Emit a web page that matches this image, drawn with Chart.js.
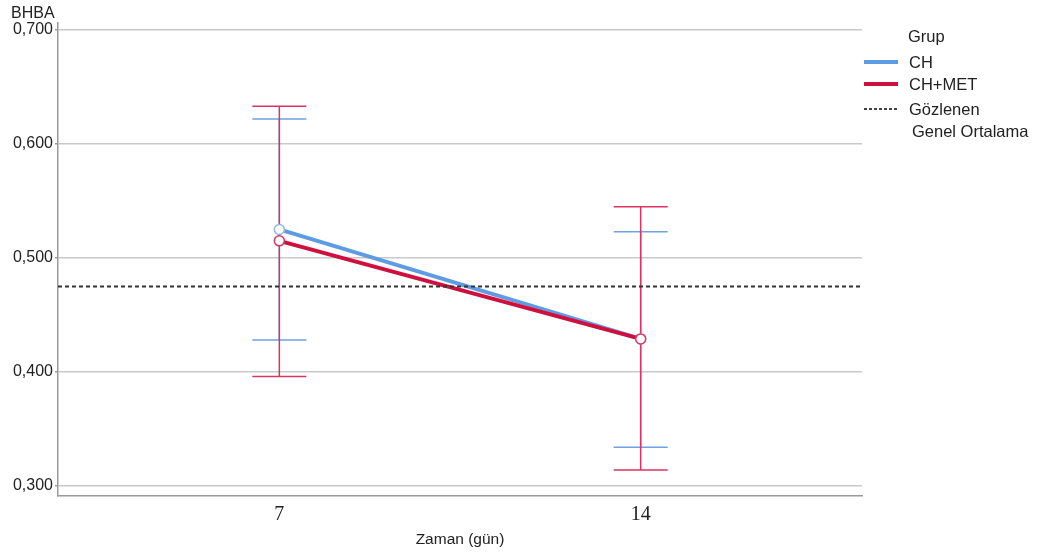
<!DOCTYPE html>
<html>
<head>
<meta charset="utf-8">
<script src="https://cdn.jsdelivr.net/npm/chart.js@4"></script>
<style>
  html, body { margin: 0; padding: 0; background: #fff; }
  #wrap { width: 1039px; height: 557px; position: relative; }
</style>
</head>
<body>
<div id="wrap"><canvas id="c" width="1039" height="557"></canvas></div>
<script>
// values
const days = ['7', '14'];
const groups = ['CH', 'CH+MET'];
const chMean = [0.525, 0.429];
const chLow = [0.428, 0.334];
const chHigh = [0.622, 0.523];
const metMean = [0.515, 0.429];
const metLow = [0.396, 0.314];
const metHigh = [0.633, 0.545];
const grandMean = 0.475;
const yTicks = [0.3, 0.4, 0.5, 0.6, 0.7];

const BLUE = '#5e9be3', RED = '#cf0f3e';
const BLUE_BAR = '#6ea2e0', RED_BAR = '#dc3460';
const X_MIN = -0.6125, X_MAX = 1.6125;
const SANS = '"Liberation Sans", Arial, sans-serif';

const bars = [
  { low: chLow, high: chHigh, color: BLUE_BAR },
  { low: metLow, high: metHigh, color: RED_BAR },
];

// error bars, drawn under the lines
const errorBars = {
  id: 'errorBars',
  beforeDatasetsDraw(chart) {
    const { ctx, scales: { x, y } } = chart;
    ctx.save();
    ctx.lineWidth = 1.5;
    bars.forEach(b => {
      ctx.strokeStyle = b.color;
      days.forEach((d, i) => {
        const px = x.getPixelForValue(i);
        const top = y.getPixelForValue(b.high[i]);
        const bot = y.getPixelForValue(b.low[i]);
        ctx.beginPath();
        ctx.moveTo(px, top); ctx.lineTo(px, bot);
        ctx.moveTo(px - 27, top); ctx.lineTo(px + 27, top);
        ctx.moveTo(px - 27, bot); ctx.lineTo(px + 27, bot);
        ctx.stroke();
      });
    });
    ctx.restore();
  }
};

// legend + y title, SPSS style
const sideLegend = {
  id: 'sideLegend',
  afterDraw(chart) {
    const ctx = chart.ctx;
    ctx.save();
    ctx.fillStyle = '#222';
    ctx.textBaseline = 'middle';
    ctx.textAlign = 'left';
    ctx.font = '16px ' + SANS;
    ctx.fillText('BHBA', 11, 14);
    ctx.font = '16.5px ' + SANS;
    ctx.fillText('Grup', 908, 37);
    ctx.lineWidth = 4;
    ctx.strokeStyle = BLUE;
    ctx.beginPath(); ctx.moveTo(864, 62); ctx.lineTo(898, 62); ctx.stroke();
    ctx.strokeStyle = RED;
    ctx.beginPath(); ctx.moveTo(864, 84); ctx.lineTo(898, 84); ctx.stroke();
    ctx.lineWidth = 2;
    ctx.strokeStyle = '#444';
    ctx.setLineDash([3, 2]);
    ctx.beginPath(); ctx.moveTo(864, 109); ctx.lineTo(898, 109); ctx.stroke();
    ctx.setLineDash([]);
    ctx.fillText(groups[0], 909, 63);
    ctx.fillText(groups[1], 909, 85);
    ctx.fillText('Gözlenen', 909, 110);
    ctx.fillText('Genel Ortalama', 912, 132);
    ctx.restore();
  }
};

const pts = arr => arr.map((v, i) => ({ x: i, y: v }));

new Chart(document.getElementById('c'), {
  type: 'line',
  data: {
    datasets: [
      {
        label: groups[0], data: pts(chMean),
        borderColor: BLUE, borderWidth: 4,
        pointRadius: 5, pointBorderWidth: 1.5,
        pointBorderColor: '#93b8e6', pointBackgroundColor: '#fff',
        order: 2
      },
      {
        label: groups[1], data: pts(metMean),
        borderColor: RED, borderWidth: 4,
        pointRadius: 5, pointBorderWidth: 1.5,
        pointBorderColor: '#d33a62', pointBackgroundColor: '#fff',
        order: 1
      },
      {
        label: 'Gözlenen Genel Ortalama',
        data: [{ x: X_MIN, y: grandMean }, { x: X_MAX, y: grandMean }],
        borderColor: '#333', borderWidth: 2, borderDash: [4, 3],
        pointRadius: 0, order: 0
      }
    ]
  },
  plugins: [errorBars, sideLegend],
  options: {
    responsive: false,
    animation: false,
    layout: { padding: { left: 0, right: 177, top: 23, bottom: 0 } },
    plugins: { legend: { display: false }, tooltip: { enabled: false } },
    scales: {
      x: {
        type: 'linear', min: X_MIN, max: X_MAX,
        afterBuildTicks: s => { s.ticks = days.map((d, i) => ({ value: i })); },
        afterFit: s => { s.height = 61; },
        ticks: {
          callback: (v) => days[v] !== undefined ? days[v] : '',
          font: { family: '"Liberation Serif", "Times New Roman", serif', size: 20 },
          color: '#222', padding: 7, maxRotation: 0
        },
        grid: { display: false, drawTicks: false },
        border: { display: true, color: '#9a9a9a', width: 1.5 },
        title: {
          display: true, text: 'Zaman (gün)',
          font: { family: SANS, size: 15.5 }, color: '#222',
          padding: { top: 2, bottom: 8 }
        }
      },
      y: {
        min: 0.2912, max: 0.7061,
        afterBuildTicks: s => { s.ticks = yTicks.map(v => ({ value: v })); },
        afterFit: s => { s.width = 58; },
        ticks: {
          callback: v => v.toFixed(3).replace('.', ','),
          font: { family: SANS, size: 16 }, color: '#222', padding: 2
        },
        grid: { color: '#c9c9c9', lineWidth: 1.5, tickLength: 3, tickColor: '#9a9a9a' },
        border: { display: true, color: '#9a9a9a', width: 1.5 }
      }
    }
  }
});
</script>
</body>
</html>
